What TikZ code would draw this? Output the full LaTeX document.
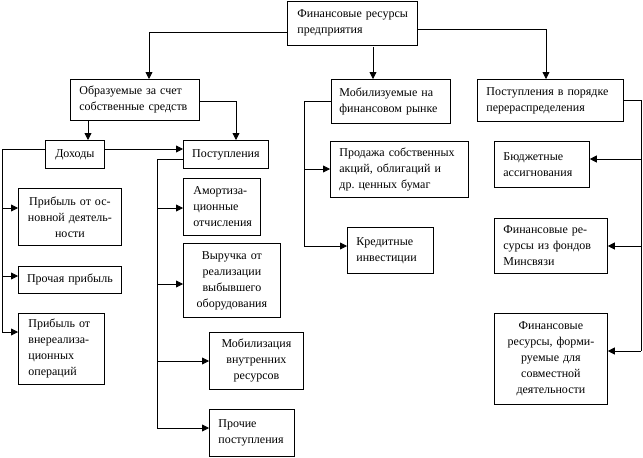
\documentclass[tikz,border=0pt]{standalone}
\usepackage{fontspec}
\setmainfont{Liberation Serif}
\usetikzlibrary{arrows.meta}
\frenchspacing
\begin{document}
\begin{tikzpicture}[x=1pt,y=-1pt,
  box/.style={draw, line width=0.8pt, anchor=north west, inner ysep=0pt,
    font=\fontsize{12pt}{16pt}\selectfont\frenchspacing},
  lbox/.style={box, align=left, inner xsep=9pt},
  cbox/.style={box, align=center, inner xsep=3pt},
  conn/.style={line width=0.8pt},
  arr/.style={conn, -{Triangle[length=7pt,width=7pt]}}]
\useasboundingbox (0,0) rectangle (643,458);
% boxes
\node[lbox, inner xsep=10pt, minimum width=130pt, minimum height=44pt, text width=110pt] (top) at (287,0.5) {Финансовые~ресурсы\\предприятия};
\node[lbox, minimum width=129pt, minimum height=41pt, text width=111pt] (obr) at (70,79) {Образуемые~за~счет\\собственные~средств};
\node[lbox, inner xsep=8pt, minimum width=119pt, minimum height=44pt, text width=103pt] (mob) at (331,79) {Мобилизуемые~на\\финансовом~рынке};
\node[lbox, minimum width=146pt, minimum height=42pt, text width=128pt] (pp) at (477,79) {Поступления~в~порядке\\перераспределения};
\node[cbox, minimum width=59pt, minimum height=28pt, text width=53pt] (doh) at (45,140) {Доходы};
\node[cbox, minimum width=85pt, minimum height=28pt, text width=79pt] (post) at (183,140) {Поступления};
\node[cbox, minimum width=103pt, minimum height=57pt, text width=97pt] (p1) at (18,188) {Прибыль~от~ос-\\новной~деятель-\\ности};
\node[cbox, minimum width=103pt, minimum height=27pt, text width=97pt] (p2) at (18,266) {Прочая~прибыль};
\node[lbox, inner xsep=10pt, minimum width=86pt, minimum height=71pt, text width=66pt] (p3) at (18,313) {Прибыль~от\\внереализа-\\ционных\\операций};
\node[lbox, inner xsep=10pt, minimum width=77pt, minimum height=57pt, text width=57pt] (a1) at (183,178) {Амортиза-\\ционные\\отчисления};
\node[cbox, minimum width=97pt, minimum height=74pt, text width=91pt] (a2) at (183,243) {Выручка~от\\реализации\\выбывшего\\оборудования};
\node[cbox, minimum width=94pt, minimum height=57pt, text width=88pt] (a3) at (209,332) {Мобилизация\\внутренних\\ресурсов};
\node[lbox, minimum width=85pt, minimum height=47pt, text width=67pt] (a4) at (209,409) {Прочие\\поступления};
\node[lbox, minimum width=138pt, minimum height=56pt, text width=120pt] (prod) at (330,141) {Продажа~собственных\\акций,~облигаций~и\\др.~ценных~бумаг};
\node[lbox, minimum width=86pt, minimum height=46pt, text width=68pt] (kred) at (347,227) {Кредитные\\инвестиции};
\node[lbox, minimum width=95pt, minimum height=46pt, text width=77pt] (bud) at (494,141) {Бюджетные\\ассигнования};
\node[lbox, minimum width=113pt, minimum height=55pt, text width=95pt] (mins) at (494,218) {Финансовые~ре-\\сурсы~из~фондов\\Минсвязи};
\node[cbox, minimum width=113pt, minimum height=91pt, text width=107pt] (form) at (494,313) {Финансовые\\ресурсы,~форми-\\руемые~для\\совместной\\деятельности};
% top level connectors
\coordinate (c1) at (149,32);
\draw[arr] (top.west |- c1) -- (c1) -- (obr.north -| c1);
\coordinate (c2) at (373,47);
\draw[arr] (c2) -- (mob.north -| c2);
\coordinate (c3) at (546,29);
\draw[arr] (top.east |- c3) -- (c3) -- (pp.north -| c3);
% Obrazuemye
\coordinate (c4) at (88,120);
\draw[arr] (obr.south -| c4) -- (doh.north -| c4);
\coordinate (c5) at (236,101);
\draw[arr] (obr.east |- c5) -- (c5) -- (post.north -| c5);
% Mobilizuemye
\coordinate (c6) at (304,101);
\coordinate (c7) at (304,169);
\coordinate (c8) at (304,246);
\draw[conn] (mob.west |- c6) -- (c6) -- (c8);
\draw[arr] (c7) -- (prod.west |- c7);
\draw[arr] (c8) -- (kred.west |- c8);
% Postupleniya v poryadke
\coordinate (r0) at (641,100);
\coordinate (r1) at (641,159);
\coordinate (r2) at (641,246);
\coordinate (r3) at (641,351);
\draw[conn] (pp.east |- r0) -- (r0) -- (r3);
\draw[arr] (r1) -- (bud.east |- r1);
\draw[arr] (r2) -- (mins.east |- r2);
\draw[arr] (r3) -- (form.east |- r3);
% Dokhody
\coordinate (l0) at (2,149);
\coordinate (l1) at (2,208);
\coordinate (l2) at (2,276);
\coordinate (l3) at (2,332);
\draw[conn] (doh.west |- l0) -- (l0) -- (l3);
\draw[arr] (l1) -- (p1.west |- l1);
\draw[arr] (l2) -- (p2.west |- l2);
\draw[arr] (l3) -- (p3.west |- l3);
\draw[arr] (doh.east |- l0) -- (post.west |- l0);
% Postupleniya
\coordinate (m0) at (157,159);
\coordinate (m1) at (157,208);
\coordinate (m2) at (157,284);
\coordinate (m3) at (157,361);
\coordinate (m4) at (157,428);
\draw[conn] (post.west |- m0) -- (m0) -- (m4);
\draw[arr] (m1) -- (a1.west |- m1);
\draw[arr] (m2) -- (a2.west |- m2);
\draw[arr] (m3) -- (a3.west |- m3);
\draw[arr] (m4) -- (a4.west |- m4);
\end{tikzpicture}
\end{document}
